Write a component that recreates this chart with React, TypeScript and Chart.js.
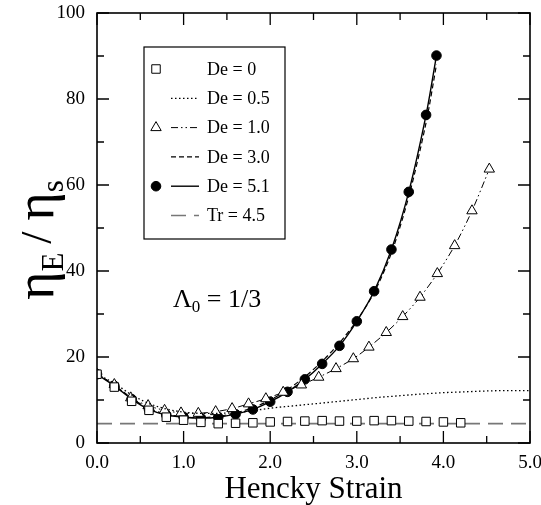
import { useEffect, useRef } from "react";
import { Chart, registerables } from "chart.js";

Chart.register(...registerables);

const SERIF = '"Liberation Serif", "DejaVu Serif", serif';

// De = 0 (open squares)
const de0X = [0, 0.2, 0.4, 0.6, 0.8, 1.0, 1.2, 1.4, 1.6, 1.8, 2.0, 2.2, 2.4, 2.6, 2.8, 3.0, 3.2, 3.4, 3.6, 3.8, 4.0, 4.2];
const de0Y = [16.0, 13.0, 9.7, 7.6, 6.0, 5.3, 4.8, 4.5, 4.6, 4.7, 4.9, 5.0, 5.1, 5.2, 5.1, 5.1, 5.2, 5.2, 5.1, 5.0, 4.9, 4.7];

// De = 0.5 (dotted line)
const de05X = [0, 0.2, 0.4, 0.6, 0.8, 1.0, 1.2, 1.4, 1.6, 1.8, 2.0, 2.25, 2.5, 2.75, 3.0, 3.25, 3.5, 3.75, 4.0, 4.25, 4.5, 4.75, 5.0];
const de05Y = [16.0, 13.9, 11.2, 9.2, 7.9, 7.2, 6.9, 6.9, 7.1, 7.5, 8.1, 8.6, 9.1, 9.6, 10.1, 10.6, 11.0, 11.4, 11.7, 11.9, 12.1, 12.2, 12.2];

// De = 1.0 (open triangles, dash-dot line)
const de1X = [0.0, 0.2, 0.39, 0.59, 0.78, 0.97, 1.17, 1.37, 1.56, 1.75, 1.95, 2.15, 2.36, 2.56, 2.76, 2.96, 3.14, 3.34, 3.53, 3.73, 3.93, 4.13, 4.33, 4.53];
const de1Y = [16.0, 13.6, 10.5, 8.7, 7.6, 7.0, 6.9, 7.3, 8.0, 9.1, 10.3, 11.8, 13.5, 15.3, 17.3, 19.6, 22.3, 25.7, 29.4, 33.9, 39.4, 45.9, 54.0, 63.7];

// De = 3.0 (dashed line)
const de3X = [0, 0.2, 0.4, 0.6, 0.8, 1.0, 1.2, 1.4, 1.6, 1.8, 2.0, 2.2, 2.4, 2.6, 2.8, 3.0, 3.2, 3.4, 3.6, 3.8, 3.92];
const de3Y = [16.0, 13.5, 10.4, 8.0, 6.7, 6.1, 5.9, 6.2, 7.0, 8.2, 10.0, 12.4, 15.4, 19.0, 23.3, 28.5, 35.0, 44.2, 57.3, 74.5, 88.0];

// De = 5.1 (filled circles, solid line)
const de51X = [0, 0.2, 0.4, 0.6, 0.8, 1.0, 1.2, 1.4, 1.6, 1.8, 2.0, 2.2, 2.4, 2.6, 2.8, 3.0, 3.2, 3.4, 3.6, 3.8, 3.92];
const de51Y = [16.0, 13.3, 10.2, 7.8, 6.5, 6.0, 5.8, 6.0, 6.7, 7.8, 9.6, 11.9, 14.8, 18.4, 22.6, 28.3, 35.3, 45.0, 58.4, 76.3, 90.1];

// Tr = 4.5 (grey long dashes)
const trX = [0, 5];
const trY = [4.5, 4.5];

const seriesLabels = ["De = 0", "De = 0.5", "De = 1.0", "De = 3.0", "De = 5.1", "Tr = 4.5"];

const xTickMajor = [0, 1, 2, 3, 4, 5];
const yTickMajor = [0, 20, 40, 60, 80, 100];

const xTitle = "Hencky Strain";
const annotationMain = "Λ";
const annotationSub = "0";
const annotationRest = " = 1/3";

const pts = (xs: number[], ys: number[]) => xs.map((x, i) => ({ x, y: ys[i] }));

function drawSymbol(ctx: CanvasRenderingContext2D, style: string, x: number, y: number, r: number, fill: string) {
  ctx.save();
  ctx.beginPath();
  if (style === "rect") {
    const s = Math.SQRT1_2 * r;
    ctx.rect(x - s, y - s, 2 * s, 2 * s);
  } else if (style === "triangle") {
    ctx.moveTo(x, y - r);
    ctx.lineTo(x + r * Math.cos(Math.PI / 6), y + r * 0.5);
    ctx.lineTo(x - r * Math.cos(Math.PI / 6), y + r * 0.5);
    ctx.closePath();
  } else {
    ctx.arc(x, y, r, 0, Math.PI * 2);
  }
  ctx.fillStyle = fill;
  ctx.fill();
  ctx.lineWidth = 1;
  ctx.strokeStyle = "#000";
  ctx.stroke();
  ctx.restore();
}

const decorPlugin = {
  id: "decor",
  afterDatasetsDraw(chart: any) {
    const { ctx, chartArea } = chart;
    const xs = chart.scales.x;
    const ys = chart.scales.y;
    const { left, right, top, bottom } = chartArea;
    ctx.save();
    // frame
    ctx.strokeStyle = "#000";
    ctx.lineWidth = 1.6;
    ctx.strokeRect(left, top, right - left, bottom - top);
    // ticks
    ctx.lineWidth = 1.3;
    ctx.beginPath();
    for (let v = 0; v <= 5.0001; v += 0.5) {
      const px = xs.getPixelForValue(v);
      const len = Math.abs(v - Math.round(v)) < 1e-6 ? 12 : 7;
      ctx.moveTo(px, bottom);
      ctx.lineTo(px, bottom - len);
      ctx.moveTo(px, top);
      ctx.lineTo(px, top + len);
    }
    for (let v = 0; v <= 100.001; v += 10) {
      const py = ys.getPixelForValue(v);
      const len = Math.round(v) % 20 === 0 ? 12 : 7;
      ctx.moveTo(left, py);
      ctx.lineTo(left + len, py);
      ctx.moveTo(right, py);
      ctx.lineTo(right - len, py);
    }
    ctx.stroke();

    // legend
    const bx = 144, by = 47, bw = 141, bh = 192;
    ctx.fillStyle = "#fff";
    ctx.fillRect(bx, by, bw, bh);
    ctx.lineWidth = 1.2;
    ctx.strokeStyle = "#000";
    ctx.strokeRect(bx, by, bw, bh);
    ctx.font = `18px ${SERIF}`;
    ctx.textBaseline = "middle";
    ctx.textAlign = "left";
    chart.data.datasets.forEach((ds: any, i: number) => {
      const cy = by + 22 + i * 29.3;
      if (ds.showLine !== false) {
        ctx.save();
        ctx.strokeStyle = ds.borderColor;
        ctx.lineWidth = ds.borderWidth;
        ctx.setLineDash(ds.borderDash || []);
        ctx.beginPath();
        ctx.moveTo(bx + 27, cy);
        ctx.lineTo(bx + 55, cy);
        ctx.stroke();
        ctx.restore();
      }
      if (ds.pointRadius > 0) {
        drawSymbol(ctx, ds.pointStyle, bx + 12, cy, ds.pointRadius, ds.pointBackgroundColor);
      }
      ctx.fillStyle = "#000";
      ctx.fillText(ds.label, bx + 63, cy + 1);
    });

    // annotation Λ0 = 1/3
    ctx.fillStyle = "#000";
    ctx.textBaseline = "alphabetic";
    let ax = 173;
    const ay = 307;
    ctx.font = `26px ${SERIF}`;
    ctx.fillText(annotationMain, ax, ay);
    ax += ctx.measureText(annotationMain).width;
    ctx.font = `17px ${SERIF}`;
    ctx.fillText(annotationSub, ax, ay + 5);
    ax += ctx.measureText(annotationSub).width;
    ctx.font = `26px ${SERIF}`;
    ctx.fillText(annotationRest, ax, ay);

    // y-axis title  η_E / η_s  (rotated)
    ctx.save();
    ctx.translate(53, 240);
    ctx.rotate(-Math.PI / 2);
    const big = `54px ${SERIF}`;
    const mid = `44px ${SERIF}`;
    const small = `31px ${SERIF}`;
    const parts: [string, string, number, number][] = [
      ["η", big, 0, 0],
      ["E", small, 10, 9],
      ["/", mid, -2, 11],
      ["η", big, 0, 0],
      ["s", small, 10, 0],
    ];
    let total = 0;
    parts.forEach(([t, f, , gap]) => {
      ctx.font = f;
      total += ctx.measureText(t).width + gap;
    });
    let tx = -total / 2;
    parts.forEach(([t, f, dy, gap]) => {
      ctx.font = f;
      ctx.fillText(t, tx, dy);
      tx += ctx.measureText(t).width + gap;
    });
    ctx.restore();

    ctx.restore();
  },
};

export default function App() {
  const ref = useRef<HTMLCanvasElement>(null);
  useEffect(() => {
    const canvas = ref.current!;
    const chart = new Chart(canvas, {
      type: "scatter",
      data: {
        datasets: [
          {
            label: seriesLabels[0],
            data: pts(de0X, de0Y),
            showLine: false,
            pointStyle: "rect",
            pointRadius: 6,
            pointBackgroundColor: "#fff",
            pointBorderColor: "#000",
            pointBorderWidth: 1,
            borderColor: "#000",
            borderWidth: 1,
          },
          {
            label: seriesLabels[1],
            data: pts(de05X, de05Y),
            showLine: true,
            borderColor: "#000",
            borderWidth: 1.3,
            borderDash: [1.5, 2.5],
            pointRadius: 0,
            tension: 0.4,
            cubicInterpolationMode: "monotone",
          },
          {
            label: seriesLabels[2],
            data: pts(de1X, de1Y),
            showLine: true,
            borderColor: "#000",
            borderWidth: 1,
            borderDash: [7, 3, 1.5, 3, 1.5, 3],
            pointStyle: "triangle",
            pointRadius: 6,
            pointBackgroundColor: "#fff",
            pointBorderColor: "#000",
            pointBorderWidth: 1,
            tension: 0.3,
          },
          {
            label: seriesLabels[3],
            data: pts(de3X, de3Y),
            showLine: true,
            borderColor: "#000",
            borderWidth: 1.2,
            borderDash: [5, 3],
            pointRadius: 0,
            tension: 0.3,
          },
          {
            label: seriesLabels[4],
            data: pts(de51X, de51Y),
            showLine: true,
            borderColor: "#000",
            borderWidth: 1.4,
            pointStyle: "circle",
            pointRadius: 4.8,
            pointBackgroundColor: "#000",
            pointBorderColor: "#000",
            pointBorderWidth: 1,
            tension: 0.3,
          },
          {
            label: seriesLabels[5],
            data: pts(trX, trY),
            showLine: true,
            borderColor: "#777",
            borderWidth: 1.6,
            borderDash: [15, 8],
            pointRadius: 0,
          },
        ],
      },
      options: {
        animation: false,
        responsive: false,
        layout: { padding: { left: 0, top: 13, right: 11, bottom: 0 } },
        plugins: { legend: { display: false }, tooltip: { enabled: false } },
        scales: {
          x: {
            type: "linear",
            min: 0,
            max: 5,
            afterBuildTicks: (s: any) => {
              s.ticks = xTickMajor.map((v) => ({ value: v }));
            },
            afterFit: (s: any) => {
              s.height = 62;
              s.paddingLeft = 0;
              s.paddingRight = 0;
            },
            grid: { display: false, drawTicks: false },
            border: { display: false },
            ticks: {
              color: "#000",
              padding: 9,
              font: { family: SERIF, size: 19 },
              callback: (v: any) => Number(v).toFixed(1),
              maxRotation: 0,
            },
            title: {
              display: true,
              text: xTitle,
              color: "#000",
              font: { family: SERIF, size: 31, lineHeight: 1 },
              padding: { top: 0, bottom: 0 },
            },
          },
          y: {
            type: "linear",
            min: 0,
            max: 100,
            afterBuildTicks: (s: any) => {
              s.ticks = yTickMajor.map((v) => ({ value: v }));
            },
            afterFit: (s: any) => {
              s.width = 97;
              s.paddingTop = 0;
              s.paddingBottom = 0;
            },
            grid: { display: false, drawTicks: false },
            border: { display: false },
            ticks: {
              color: "#000",
              padding: 12,
              font: { family: SERIF, size: 19 },
            },
          },
        },
      },
      plugins: [decorPlugin],
    } as any);
    return () => chart.destroy();
  }, []);
  return (
    <div style={{ position: "absolute", left: 0, top: 0, width: 541, height: 505, background: "#fff" }}>
      <canvas ref={ref} width={541} height={505} style={{ display: "block", width: 541, height: 505 }} />
    </div>
  );
}
